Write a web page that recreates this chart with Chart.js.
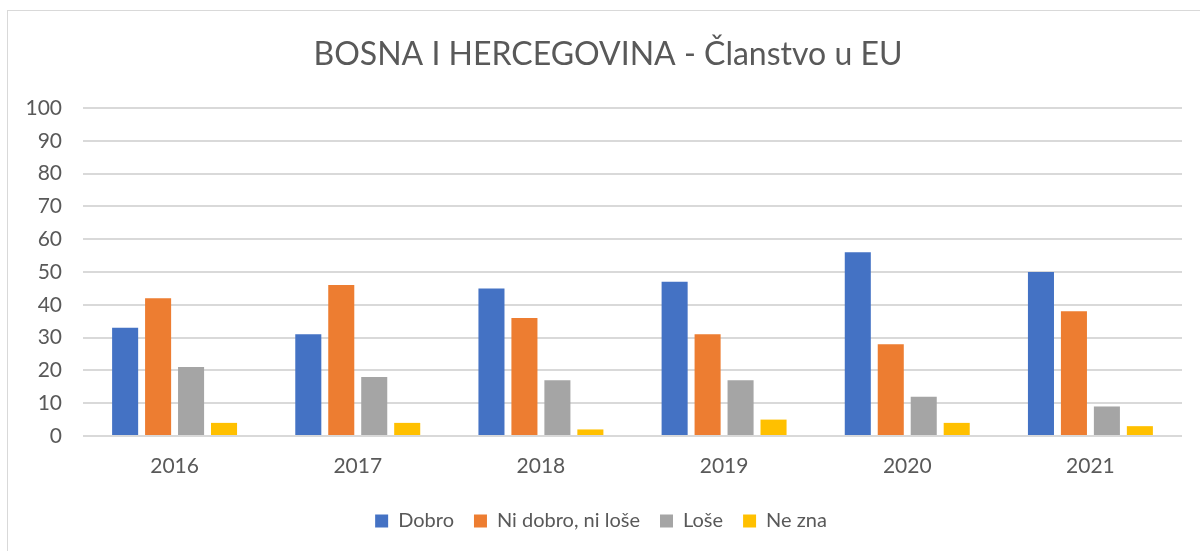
<!DOCTYPE html>
<html>
<head>
<meta charset="utf-8">
<script src="https://cdn.jsdelivr.net/npm/chart.js@4/dist/chart.umd.min.js"></script>
<style>
  body { margin: 0; background: #fff; }
  #wrap { position: relative; width: 1200px; height: 551px; overflow: hidden; }
  #frame { position: absolute; left: 7px; top: 10px; width: 1300px; height: 700px; border: 1px solid #d9d9d9; }
  canvas { position: absolute; left: 0; top: 0; }
</style>
</head>
<body>
<div id="wrap">
  <div id="frame"></div>
  <canvas id="chart" width="1200" height="551"></canvas>
</div>
<script>
const years = ['2016', '2017', '2018', '2019', '2020', '2021'];
const dobro = [33, 31, 45, 47, 56, 50];
const niDobroNiLose = [42, 46, 36, 31, 28, 38];
const lose = [21, 18, 17, 17, 12, 9];
const neZna = [4, 4, 2, 5, 4, 3];
const seriesNames = ['Dobro', 'Ni dobro, ni loše', 'Loše', 'Ne zna'];
const chartTitle = 'BOSNA I HERCEGOVINA - Članstvo u EU';
const colors = ['#4472C4', '#ED7D31', '#A5A5A5', '#FFC000'];
const textColor = '#595959';
const fontFamily = 'Lato, "Open Sans", sans-serif';

const seriesData = [dobro, niDobroNiLose, lose, neZna];

// title drawn by hand so it can sit centred on the frame, not the canvas
const titlePlugin = {
  id: 'frameTitle',
  afterDraw(chart) {
    const ctx = chart.ctx;
    ctx.save();
    ctx.font = '32px ' + fontFamily;
    ctx.fillStyle = textColor;
    ctx.textAlign = 'center';
    ctx.textBaseline = 'middle';
    ctx.fillText(chartTitle, 608, 55);
    ctx.restore();
  }
};

new Chart(document.getElementById('chart'), {
  type: 'bar',
  data: {
    labels: years,
    datasets: seriesData.map((d, i) => ({
      label: seriesNames[i],
      data: d,
      backgroundColor: colors[i],
      categoryPercentage: 0.72,
      barPercentage: 0.79
    }))
  },
  options: {
    responsive: false,
    animation: false,
    layout: { padding: { left: 20, right: 18, top: 108, bottom: 10 } },
    plugins: {
      title: { display: false },
      legend: {
        position: 'bottom',
        labels: {
          color: textColor,
          font: { family: fontFamily, size: 20 },
          boxWidth: 13,
          boxHeight: 13,
          padding: 20
        }
      },
      tooltip: { enabled: false }
    },
    scales: {
      x: {
        afterFit: axis => { axis.height = 55; },
        grid: { display: false },
        border: { display: false },
        ticks: { color: textColor, font: { family: fontFamily, size: 21 }, padding: 10 }
      },
      y: {
        min: 0,
        max: 100,
        afterFit: axis => { axis.width = 63; },
        grid: { color: '#d9d9d9', lineWidth: 2, drawTicks: false },
        border: { display: false },
        ticks: { stepSize: 10, color: textColor, font: { family: fontFamily, size: 21 }, padding: 21 }
      }
    }
  },
  plugins: [titlePlugin]
});
</script>
</body>
</html>
